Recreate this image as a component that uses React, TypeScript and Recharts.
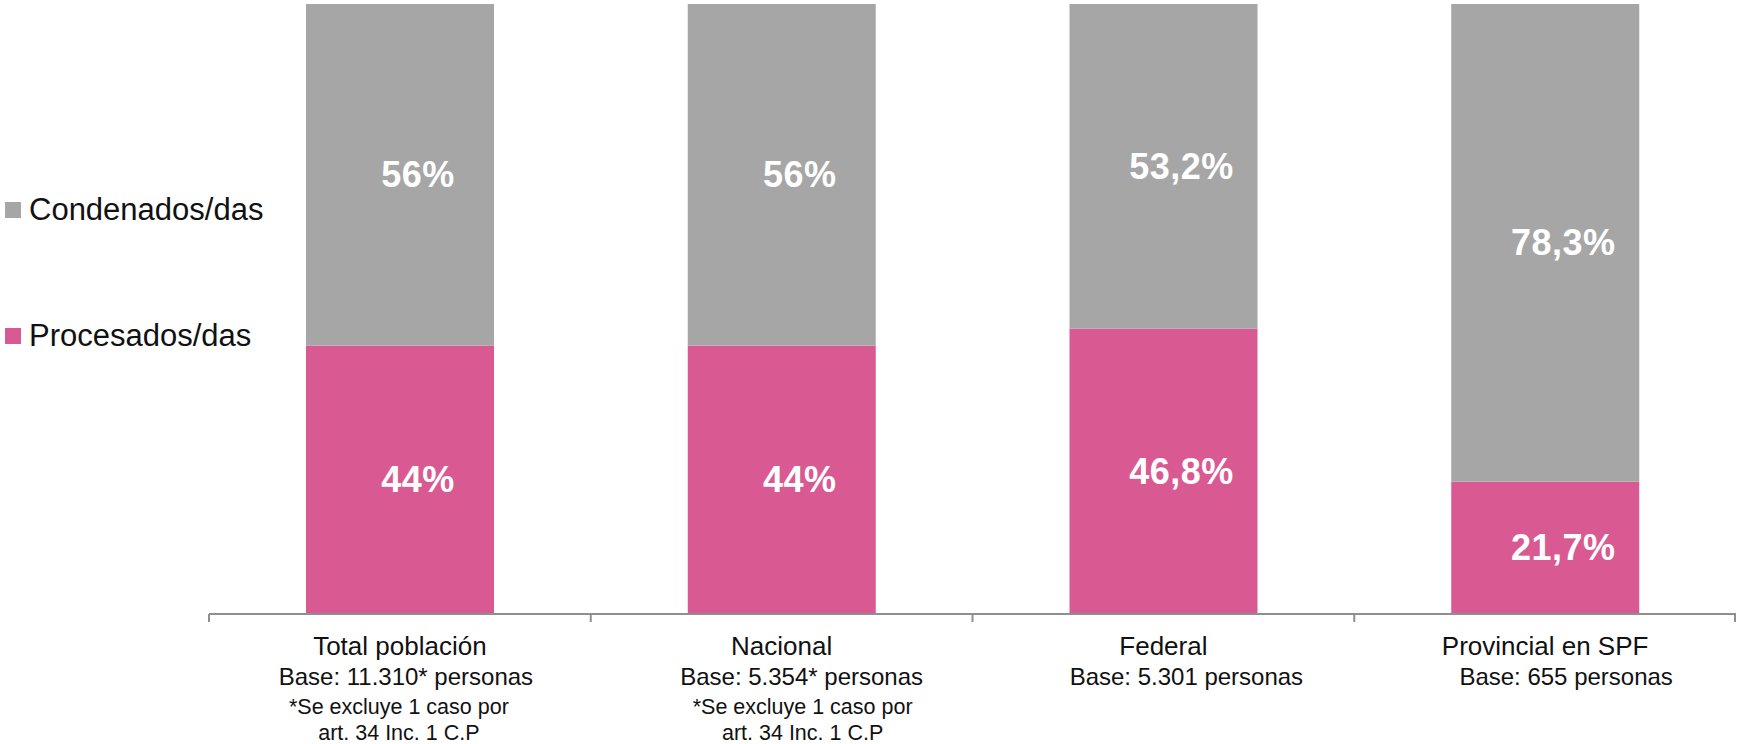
import React from "react";
import { BarChart, Bar, XAxis, YAxis, Legend, LabelList } from "recharts";

const categories = ["Total población", "Nacional", "Federal", "Provincial en SPF"];
const procesados = [44, 44, 46.8, 21.7];
const condenados = [56, 56, 53.2, 78.3];
const baseLines = [
  "Base: 11.310* personas",
  "Base: 5.354* personas",
  "Base: 5.301 personas",
  "Base: 655 personas",
];
const noteLines = [
  ["*Se excluye 1 caso por", "art. 34 Inc. 1 C.P"],
  ["*Se excluye 1 caso por", "art. 34 Inc. 1 C.P"],
  [],
  [],
];
const seriesNames = { cond: "Condenados/das", proc: "Procesados/das" };

const W = 1737;
const H = 744;
const M_LEFT = 209;
const M_RIGHT = 1;
const M_TOP = 4;
const AXIS_Y = 614;
const BAND = (W - M_LEFT - M_RIGHT) / categories.length;
const GRAY = "#A6A6A6";
const PINK = "#D95A92";
const AXIS = "#8F8F8F";
const FONT = "'Liberation Sans', Arial, sans-serif";

// small per-category horizontal shifts of the sub-lines (layout only)
const subShift = [
  [6, -1, -1],
  [20, 21, 21],
  [23, 0, 0],
  [21, 0, 0],
];

const data = categories.map((c, i) => ({
  name: c,
  proc: procesados[i],
  cond: condenados[i],
}));

const fmt = (v: number) =>
  Number.isInteger(v) ? `${v}%` : `${v.toFixed(1).replace(".", ",")}%`;

const renderLabel = (props: any) => {
  const { x, y, width, height, value } = props;
  return (
    <text
      x={x + width / 2 + 18}
      y={y + height / 2}
      textAnchor="middle"
      dominantBaseline="central"
      fill="#FFFFFF"
      fontFamily={FONT}
      fontWeight="bold"
      fontSize={36}
      letterSpacing={0.5}
    >
      {fmt(value)}
    </text>
  );
};

const Tick = (props: any) => {
  const { x, payload, index } = props;
  const i = index as number;
  const left = x - BAND / 2;
  const right = x + BAND / 2;
  const notes = noteLines[i] || [];
  return (
    <g>
      <line x1={left} x2={left} y1={AXIS_Y} y2={AXIS_Y + 8} stroke={AXIS} strokeWidth={2} />
      {i === categories.length - 1 && (
        <line x1={right - 1} x2={right - 1} y1={AXIS_Y} y2={AXIS_Y + 8} stroke={AXIS} strokeWidth={2} />
      )}
      <text x={x} y={655} textAnchor="middle" fontFamily={FONT} fontSize={26} fill="#111">
        {payload.value}
      </text>
      <text x={x + subShift[i][0]} y={685} textAnchor="middle" fontFamily={FONT} fontSize={24} fill="#111">
        {baseLines[i]}
      </text>
      {notes.map((t, k) => (
        <text
          key={k}
          x={x + subShift[i][k + 1]}
          y={k === 0 ? 714 : 740}
          textAnchor="middle"
          fontFamily={FONT}
          fontSize={21.5}
          fill="#111"
        >
          {t}
        </text>
      ))}
    </g>
  );
};

const LegendContent = () => {
  const items = [
    { name: seriesNames.cond, color: GRAY, cy: 210 },
    { name: seriesNames.proc, color: PINK, cy: 336 },
  ];
  return (
    <div style={{ position: "relative", width: 260, height: 200 }}>
      {items.map((it) => (
        <div
          key={it.name}
          style={{
            position: "absolute",
            left: 0,
            top: it.cy - 190 - 20,
            height: 40,
            display: "flex",
            alignItems: "center",
            whiteSpace: "nowrap",
          }}
        >
          <span
            style={{
              display: "inline-block",
              width: 16,
              height: 16,
              marginLeft: 5,
              marginRight: 8,
              background: it.color,
            }}
          />
          <span style={{ fontFamily: FONT, fontSize: 31, color: "#111", lineHeight: "40px" }}>
            {it.name}
          </span>
        </div>
      ))}
    </div>
  );
};

export default function App() {
  return (
    <div style={{ position: "absolute", left: 0, top: 0, width: W, height: H, background: "#fff" }}>
      <BarChart
        width={W}
        height={H}
        data={data}
        margin={{ top: M_TOP, right: M_RIGHT, left: M_LEFT, bottom: 0 }}
        barSize={188}
      >
        <XAxis
          dataKey="name"
          height={H - AXIS_Y}
          axisLine={{ stroke: AXIS, strokeWidth: 2 }}
          tickLine={false}
          tick={<Tick />}
          interval={0}
        />
        <YAxis hide domain={[0, 100]} />
        <Legend
          layout="horizontal"
          verticalAlign="middle"
          align="center"
          content={<LegendContent />}
          wrapperStyle={{ position: "absolute", left: 0, top: 190, width: 260, height: 200 }}
        />
        <Bar dataKey="proc" name={seriesNames.proc} stackId="a" fill={PINK} isAnimationActive={false}>
          <LabelList dataKey="proc" content={renderLabel} />
        </Bar>
        <Bar dataKey="cond" name={seriesNames.cond} stackId="a" fill={GRAY} isAnimationActive={false}>
          <LabelList dataKey="cond" content={renderLabel} />
        </Bar>
      </BarChart>
    </div>
  );
}
